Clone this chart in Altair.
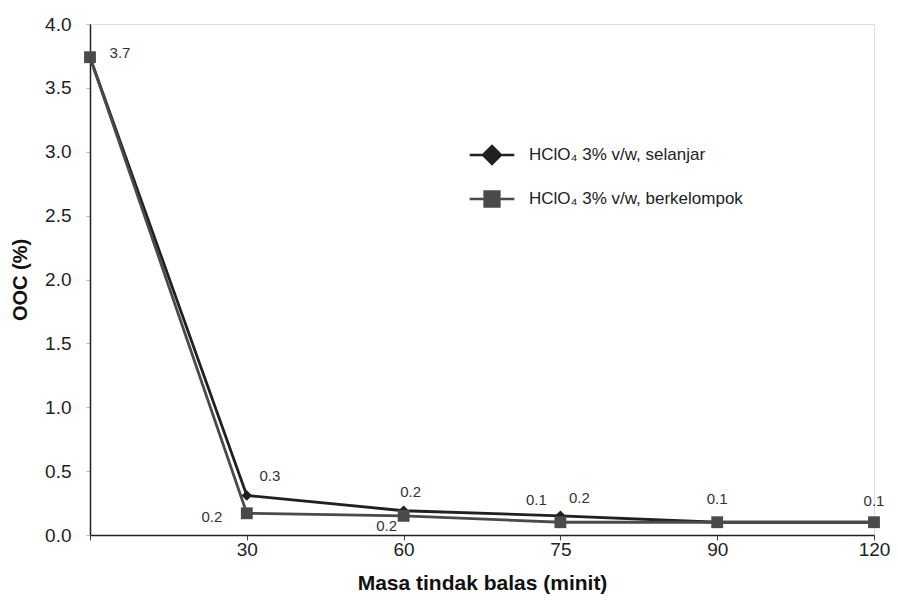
import altair as alt
import pandas as pd

categories = ["0", "30", "60", "75", "90", "120"]
series_names = ["HClO\u2084 3% v/w, selanjar", "HClO\u2084 3% v/w, berkelompok"]
selanjar = [3.74, 0.31, 0.19, 0.15, 0.10, 0.10]
berkelompok = [3.74, 0.17, 0.15, 0.10, 0.10, 0.10]

# annotations: (series index, category, text, placement)
ann_series = [1, 0, 1, 0, 1, 1, 0, 1, 1]
ann_cats = ["0", "30", "30", "60", "60", "75", "75", "90", "120"]
ann_texts = ["3.7", "0.3", "0.2", "0.2", "0.2", "0.1", "0.2", "0.1", "0.1"]
ann_place = ["right", "upright", "left", "up", "downleft", "upleft", "upright2", "up2", "up3"]

placements = {
    "right": (30, -4),
    "upright": (23, -19),
    "left": (-35, 4),
    "up": (7, -19),
    "downleft": (-17, 10),
    "upleft": (-24, -22),
    "upright2": (19, -18),
    "up2": (0, -23),
    "up3": (0, -21),
}

FONT = "Liberation Sans"
colors = ["#202020", "#4a4a4a"]
marker_shapes = ["diamond", "square"]
marker_sizes = [110, 140]

rows = []
for name, vals in zip(series_names, [selanjar, berkelompok]):
    for c, v in zip(categories, vals):
        rows.append({"series": name, "cat": c, "value": v})
df = pd.DataFrame(rows)

arows = []
for s, c, t, p in zip(ann_series, ann_cats, ann_texts, ann_place):
    vals = [selanjar, berkelompok][s]
    arows.append({"cat": c, "value": vals[categories.index(c)], "text": t, "place": p})
adf = pd.DataFrame(arows)

xscale = alt.Scale(type="point", padding=0, domain=categories)
yscale = alt.Scale(domain=[0, 4], nice=False, zero=True)

xenc = alt.X("cat:O", sort=categories, scale=xscale,
             axis=alt.Axis(title="Masa tindak balas (minit)", labelAngle=0,
                           labelExpr="datum.value == '0' ? '' : datum.label",
                           labelFontSize=19, labelColor="#222", labelFont=FONT,
                           titleFontSize=21, titleFontWeight="bold", titleColor="#111",
                           titleFont=FONT, titlePadding=13, tickSize=5, labelPadding=0,
                           domainColor="#222", domainWidth=1.5, tickColor="#444", grid=False))
yenc = alt.Y("value:Q", scale=yscale,
             axis=alt.Axis(title="OOC (%)", values=[0, 0.5, 1, 1.5, 2, 2.5, 3, 3.5, 4],
                           format=".1f", labelFontSize=19, labelColor="#222", labelFont=FONT,
                           titleFontSize=20, titleFontWeight="bold", titleColor="#111",
                           titleFont=FONT, titlePadding=14, tickSize=4, labelPadding=15,
                           domainColor="#222", domainWidth=1.5, tickColor="#bbb", grid=False))

line_path = "M-1,0H1"
dia_path = line_path + "M-0.4,0L0,-0.4L0.4,0L0,0.4Z"
sq_path = line_path + "M-0.33,-0.33H0.33V0.33H-0.33Z"

base = alt.Chart(df).encode(x=xenc, y=yenc)

layers = []
for name, col in zip(series_names, colors):
    layers.append(
        base.transform_filter(alt.datum.series == name)
        .mark_line(strokeWidth=2.8, color=col)
    )

legend = alt.Legend(
    title=None, orient="none", legendX=378, legendY=107, labelFontSize=17,
    labelFont=FONT, labelColor="#222", symbolSize=2000, labelOffset=13,
    rowPadding=6, symbolStrokeWidth=2.5, labelLimit=400)

# legend-carrying layer: tiny marks hidden under the visible markers
legend_layer = base.mark_point(filled=True, opacity=1, strokeWidth=2.5, size=4).encode(
    fill=alt.Fill("series:N", scale=alt.Scale(domain=series_names, range=colors), legend=legend),
    stroke=alt.Stroke("series:N", scale=alt.Scale(domain=series_names, range=colors), legend=legend),
    shape=alt.Shape("series:N", scale=alt.Scale(domain=series_names, range=[dia_path, sq_path]),
                    legend=legend),
)
layers.append(legend_layer)

for name, shp, sz, col in zip(series_names, marker_shapes, marker_sizes, colors):
    layers.append(
        base.transform_filter(alt.datum.series == name)
        .mark_point(filled=True, opacity=1, size=sz, shape=shp, color=col)
    )

for pname, (dx, dy) in placements.items():
    layers.append(
        alt.Chart(adf).transform_filter(alt.datum.place == pname)
        .mark_text(dx=dx, dy=dy, fontSize=15, font=FONT, color="#333")
        .encode(x=alt.X("cat:O", sort=categories, scale=xscale),
                y=alt.Y("value:Q", scale=yscale),
                text="text:N")
    )

chart = alt.layer(*layers).properties(
    width=784, height=511,
    autosize=alt.AutoSizeParams(type="none"),
    padding={"left": 82, "top": 16, "right": 16, "bottom": 60},
).configure_view(stroke=None).configure(background="white")

chart.save("out.html", embed_options={"renderer": "svg", "actions": False})
